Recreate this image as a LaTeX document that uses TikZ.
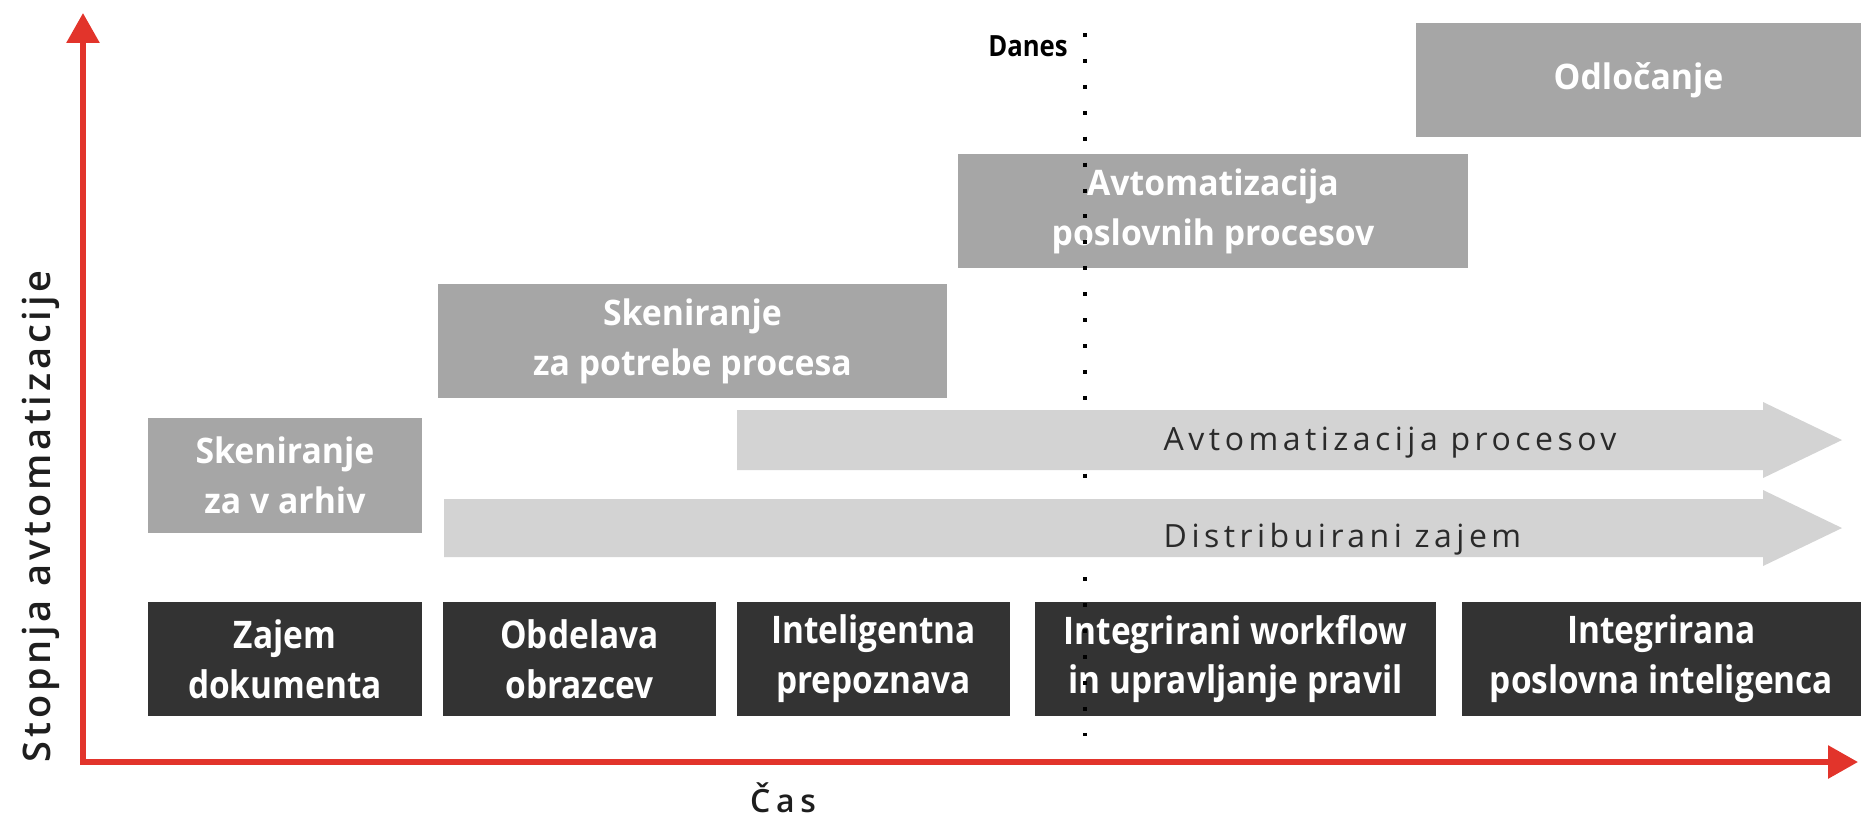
\documentclass[tikz,border=0pt]{standalone}
\usepackage{fontspec}
\setmainfont{Open Sans}
\newfontfamily\grayfont{Open Sans}[FakeStretch=0.96]
\newfontfamily\darkfont{Open Sans}[FakeStretch=0.88]
\newfontfamily\arrfont{Open Sans}[LetterSpace=14]
\IfFontExistsTF{Open Sans Semibold}{%
  \newfontfamily\axfont{Open Sans Semibold}[LetterSpace=10]%
  \newfontfamily\casfont{Open Sans Semibold}[LetterSpace=18]%
}{%
  \IfFontExistsTF{Open Sans SemiBold}{%
    \newfontfamily\axfont{Open Sans SemiBold}[LetterSpace=10]%
    \newfontfamily\casfont{Open Sans SemiBold}[LetterSpace=18]%
  }{%
    \newfontfamily\axfont{Open Sans}[LetterSpace=10,FakeBold=0.6]%
    \newfontfamily\casfont{Open Sans}[LetterSpace=18,FakeBold=0.6]%
  }%
}
\usetikzlibrary{arrows.meta}
\definecolor{axisred}{HTML}{E2342B}
\definecolor{midgray}{HTML}{A6A6A6}
\definecolor{lightarr}{HTML}{D3D3D3}
\definecolor{darkbg}{HTML}{333333}
\definecolor{arrtext}{HTML}{2A2A2A}
\definecolor{labeltext}{HTML}{1E1E1E}
\begin{document}
\begin{tikzpicture}[x=0.01cm,y=-0.01cm,
  gbox/.style={fill=midgray, text=white, inner sep=0pt, minimum height=1.14cm, align=center,
    font=\grayfont\bfseries\fontsize{10pt}{14.2pt}\selectfont},
  dbox/.style={fill=darkbg, text=white, inner sep=0pt, minimum height=1.14cm, align=center,
    font=\darkfont\bfseries\fontsize{10.8pt}{14.2pt}\selectfont},
  arrowband/.style={fill=lightarr, draw=none},
  arrlabel/.style={anchor=base west, inner sep=0pt, text=arrtext,
    font=\arrfont\fontsize{9.1pt}{11pt}\selectfont},
  axisline/.style={draw=axisred, line width=1.6pt, line join=miter,
    {Triangle[length=8.5pt,width=9.1pt]}-{Triangle[length=8.5pt,width=9.1pt]}},
  todayline/.style={draw=black, line width=1.14pt, dash pattern=on 1.14pt off 6.23pt},
]
\useasboundingbox (0,0) rectangle (1861,820);

% upper grey boxes
\node[gbox, minimum width=4.45cm] (odl) at (1638.5,80) {Odločanje};
\node[gbox, minimum width=5.10cm] (app) at (1213,211) {Avtomatizacija\\poslovnih procesov};
\node[gbox, minimum width=5.09cm] (spp) at (692.5,341) {Skeniranje\\za potrebe procesa};
\node[gbox, minimum width=2.74cm] (sva) at (285,475.5) {Skeniranje\\za v arhiv};

% dark boxes
\node[dbox, minimum width=2.74cm] (d1) at (285,659) {Zajem\\dokumenta};
\node[dbox, minimum width=2.73cm] (d2) at (579.5,659) {Obdelava\\obrazcev};
\node[dbox, minimum width=2.73cm] (d3) at (873.5,659) {Inteligentna\\prepoznava};
\node[dbox, minimum width=4.01cm] (d4) at (1235.5,659) {Integrirani workflow\\in upravljanje pravil};
\node[dbox, minimum width=3.99cm] (d5) at (1661.5,659) {Integrirana\\poslovna inteligenca};

% today line
\coordinate (dtop) at (1085,33);
\coordinate (dbot) at (1085,736);
\draw[todayline] (dtop) -- (dbot);
\node[anchor=base, inner sep=0pt, text=black,
  font=\darkfont\bfseries\fontsize{8.3pt}{10pt}\selectfont] (danes) at (1028,56) {Danes};

% wide arrows
\fill[arrowband] (737,410) -- (1763,410) -- (1763,402) -- (1842,440) -- (1763,478) -- (1763,470) -- (737,470) -- cycle;
\fill[arrowband] (444,499) -- (1763,499) -- (1763,490) -- (1842,528) -- (1763,566) -- (1763,557) -- (444,557) -- cycle;
\node[arrlabel] (ap) at (1163,450) {Avtomatizacija procesov};
\node[arrlabel] (dz) at (1163,547) {Distribuirani zajem};

% axes
\coordinate (origin) at (83,762);
\coordinate (ytip) at (83,13);
\coordinate (xtip) at (1858,762);
\draw[axisline] (ytip) -- (origin) -- (xtip);
\node[rotate=90, anchor=base west, inner sep=0pt, text=labeltext,
  font=\axfont\fontsize{10.8pt}{13pt}\selectfont] (ylab) at (50,763) {Stopnja avtomatizacije};
\node[anchor=base, inner sep=0pt, text=labeltext,
  font=\casfont\fontsize{9.1pt}{11pt}\selectfont] (xlab) at (783,812) {Čas};
\end{tikzpicture}
\end{document}
